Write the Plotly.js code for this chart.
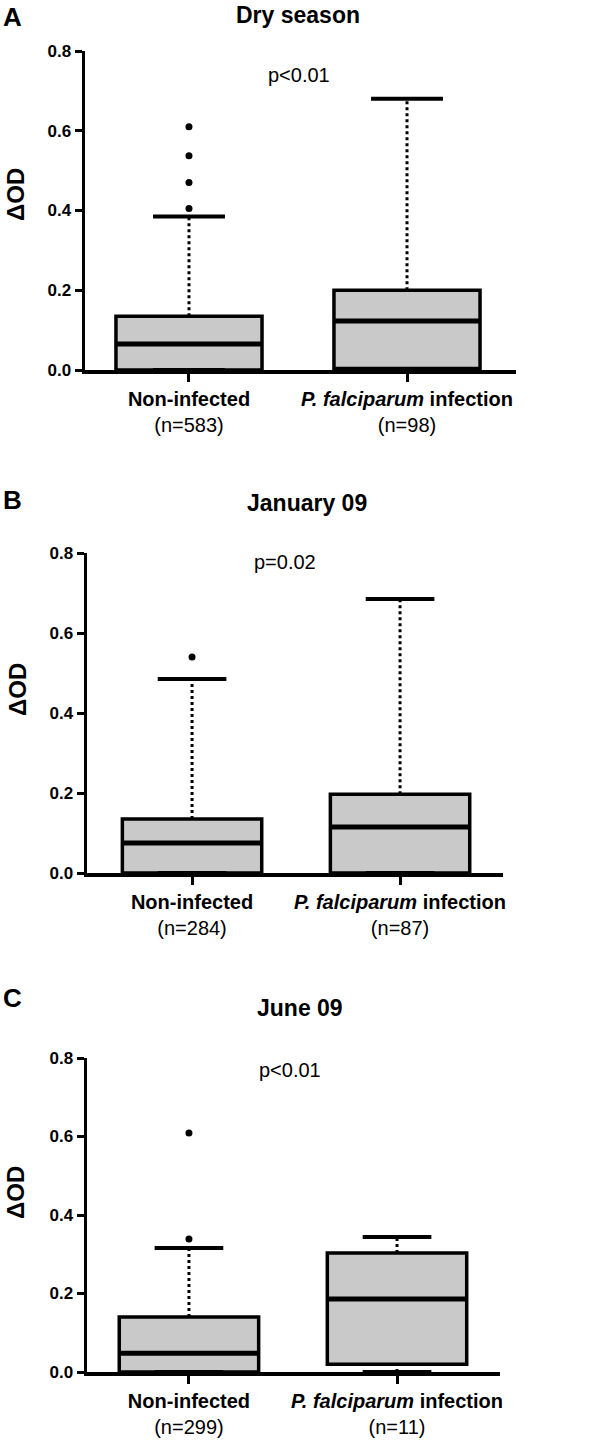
<!DOCTYPE html>
<html>
<head>
<meta charset="utf-8">
<script src="https://cdn.plot.ly/plotly-3.0.1.min.js"></script>
<style>
  html, body { margin: 0; padding: 0; background: #ffffff; }
  #chart { width: 600px; height: 1445px; }
</style>
</head>
<body>
<div id="chart"></div>
<script>
// ---------------- data ----------------
const categories = ['Non-infected', 'P. falciparum infection'];
const panelLetters = ['A', 'B', 'C'];
const panelTitles = ['Dry season', 'January 09', 'June 09'];
const pValues = ['p<0.01', 'p=0.02', 'p<0.01'];
const yTickVals = [0, 0.2, 0.4, 0.6, 0.8];
const yAxisTitle = 'ΔOD';

// Panel A: Dry season
const nA = [583, 98];
const q1A = [0.0, 0.004];
const medA = [0.065, 0.123];
const q3A = [0.135, 0.200];
const lowA = [0.0, 0.0];
const highA = [0.385, 0.680];
const outliersA_noninf = [0.405, 0.470, 0.537, 0.610];
const outliersA_pf = [];

// Panel B: January 09
const nB = [284, 87];
const q1B = [0.0, 0.0];
const medB = [0.075, 0.115];
const q3B = [0.135, 0.197];
const lowB = [0.0, 0.0];
const highB = [0.485, 0.685];
const outliersB_noninf = [0.540];
const outliersB_pf = [];

// Panel C: June 09
const nC = [299, 11];
const q1C = [0.0, 0.020];
const medC = [0.048, 0.186];
const q3C = [0.140, 0.303];
const lowC = [0.0, 0.0];
const highC = [0.316, 0.344];
const outliersC_noninf = [0.339, 0.609];
const outliersC_pf = [];

// ---------------- layout helpers ----------------
const W = 600, H = 1445;
const px = x => x / W;
const py = y => 1 - y / H;

const panels = [
  { n: nA, q1: q1A, med: medA, q3: q3A, lo: lowA, hi: highA, out: [outliersA_noninf, outliersA_pf],
    dom: [85, 516], ydom: [370, 51], xr: [-0.477, 1.5],
    letter: [12, 17], title: [298, 15], p: [299, 75], ytitle: [15, 195] },
  { n: nB, q1: q1B, med: medB, q3: q3B, lo: lowB, hi: highB, out: [outliersB_noninf, outliersB_pf],
    dom: [87, 503], ydom: [873, 553], xr: [-0.505, 1.495],
    letter: [12, 500], title: [307, 503], p: [285, 562], ytitle: [17, 690] },
  { n: nC, q1: q1C, med: medC, q3: q3C, lo: lowC, hi: highC, out: [outliersC_noninf, outliersC_pf],
    dom: [87, 500], ydom: [1372, 1058], xr: [-0.49, 1.495],
    letter: [12, 998], title: [300, 1008], p: [290, 1070], ytitle: [15, 1193] }
];

const FONT = 'Liberation Sans, Arial, Helvetica, sans-serif';
const BOXW = 0.67;
const CAPHALF = 0.165;

const traces = [];
const layout = {
  width: W, height: H,
  margin: { l: 0, r: 0, t: 0, b: 0 },
  paper_bgcolor: '#ffffff', plot_bgcolor: 'rgba(0,0,0,0)',
  showlegend: false,
  font: { family: FONT, color: '#000000' },
  annotations: []
};

function catLabel(i, n) {
  const name = i === 0
    ? '<b>' + categories[0] + '</b>'
    : '<b><i>' + categories[1].split(' infection')[0] + '</i> infection</b>';
  return name + '<br>(n=' + n + ')';
}

panels.forEach((P, k) => {
  const sfx = k === 0 ? '' : String(k + 1);
  const xa = 'x' + sfx, ya = 'y' + sfx;

  // boxes
  traces.push({
    type: 'box', xaxis: xa, yaxis: ya,
    x: [0, 1], q1: P.q1, median: P.med, q3: P.q3,
    lowerfence: P.q1, upperfence: P.q3,
    width: BOXW, whiskerwidth: 0, boxpoints: false,
    fillcolor: '#c9c9c9', line: { color: '#000000', width: 3.5 },
    hoverinfo: 'skip'
  });

  // thicker median lines
  const mx = [], my = [];
  [0, 1].forEach(i => {
    mx.push(i - BOXW / 2, i + BOXW / 2, null);
    my.push(P.med[i], P.med[i], null);
  });
  traces.push({
    type: 'scatter', mode: 'lines', xaxis: xa, yaxis: ya,
    x: mx, y: my, line: { color: '#000000', width: 5 },
    hoverinfo: 'skip'
  });

  // whiskers (dotted) and caps
  const wx = [], wy = [];
  const cx = [], cy = [];
  [0, 1].forEach(i => {
    wx.push(i, i, null, i, i, null);
    wy.push(P.q3[i], P.hi[i], null, P.lo[i], P.q1[i], null);
    cx.push(i - CAPHALF, i + CAPHALF, null, i - CAPHALF, i + CAPHALF, null);
    cy.push(P.hi[i], P.hi[i], null, P.lo[i], P.lo[i], null);
  });
  traces.push({
    type: 'scatter', mode: 'lines', xaxis: xa, yaxis: ya,
    x: wx, y: wy, line: { color: '#000000', width: 3, dash: 'dot' },
    cliponaxis: false, hoverinfo: 'skip'
  });
  traces.push({
    type: 'scatter', mode: 'lines', xaxis: xa, yaxis: ya,
    x: cx, y: cy, line: { color: '#000000', width: 4 },
    cliponaxis: false, hoverinfo: 'skip'
  });

  // outliers
  const ox = [], oy = [];
  P.out.forEach((arr, i) => arr.forEach(v => { ox.push(i); oy.push(v); }));
  traces.push({
    type: 'scatter', mode: 'markers', xaxis: xa, yaxis: ya,
    x: ox, y: oy, marker: { color: '#000000', size: 7 },
    cliponaxis: false, hoverinfo: 'skip'
  });

  layout['xaxis' + sfx] = {
    domain: [px(P.dom[0]), px(P.dom[1])],
    anchor: ya, range: P.xr, fixedrange: true,
    tickmode: 'array', tickvals: [0, 1],
    ticktext: [catLabel(0, P.n[0]), catLabel(1, P.n[1])],
    ticks: 'outside', ticklen: 8, tickwidth: 3, tickcolor: '#000000',
    showline: true, linewidth: 3.5, linecolor: '#000000',
    showgrid: false, zeroline: false,
    tickfont: { family: FONT, size: 20, color: '#000000' }
  };
  layout['yaxis' + sfx] = {
    domain: [py(P.ydom[0]), py(P.ydom[1])],
    anchor: xa, range: [0, 0.8], fixedrange: true,
    tickmode: 'array', tickvals: yTickVals, tickformat: '.1f',
    ticks: 'outside', ticklen: 7, tickwidth: 3, tickcolor: '#000000',
    showline: true, linewidth: 3.5, linecolor: '#000000',
    showgrid: false, zeroline: false,
    tickfont: { family: FONT, size: 17, color: '#000000', weight: 'bold' }
  };

  layout.annotations.push(
    { text: '<b>' + panelLetters[k] + '</b>', xref: 'paper', yref: 'paper',
      x: px(P.letter[0]), y: py(P.letter[1]), xanchor: 'center', yanchor: 'middle',
      showarrow: false, font: { family: FONT, size: 26, color: '#000000' } },
    { text: '<b>' + panelTitles[k] + '</b>', xref: 'paper', yref: 'paper',
      x: px(P.title[0]), y: py(P.title[1]), xanchor: 'center', yanchor: 'middle',
      showarrow: false, font: { family: FONT, size: 23, color: '#000000' } },
    { text: pValues[k], xref: 'paper', yref: 'paper',
      x: px(P.p[0]), y: py(P.p[1]), xanchor: 'center', yanchor: 'middle',
      showarrow: false, font: { family: FONT, size: 20, color: '#000000' } },
    { text: '<b>' + yAxisTitle + '</b>', xref: 'paper', yref: 'paper',
      x: px(P.ytitle[0]), y: py(P.ytitle[1]), xanchor: 'center', yanchor: 'middle',
      textangle: -90, showarrow: false, font: { family: FONT, size: 24, color: '#000000' } }
  );
});

Plotly.newPlot('chart', traces, layout, { staticPlot: true, displayModeBar: false });
</script>
</body>
</html>
